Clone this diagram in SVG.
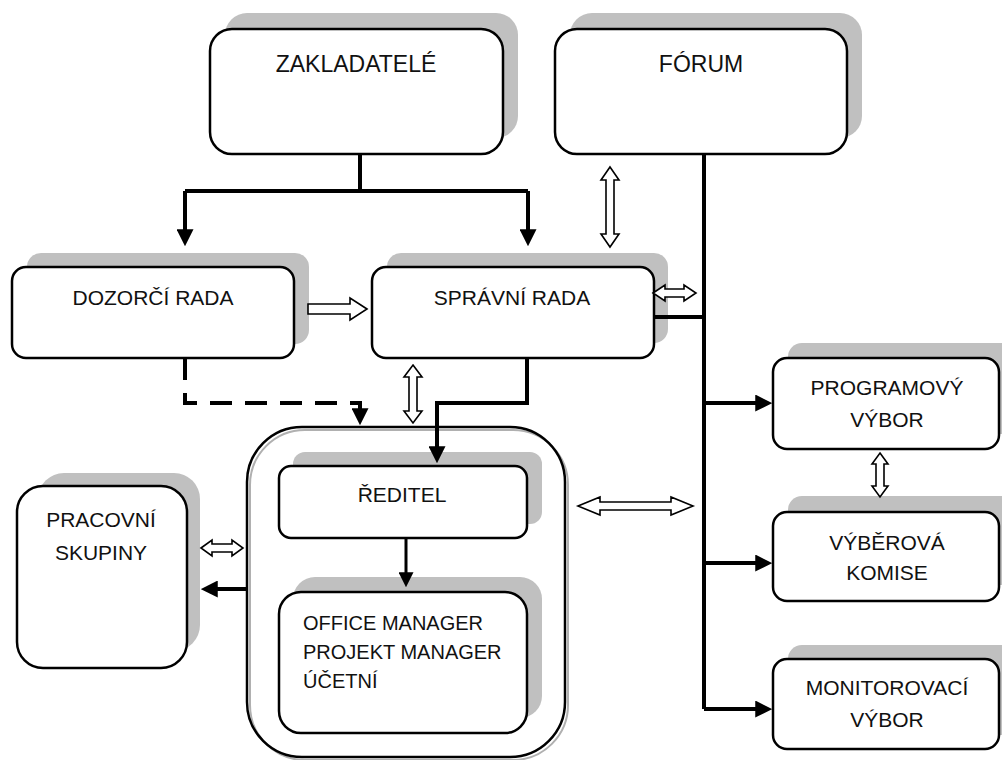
<svg xmlns="http://www.w3.org/2000/svg" width="1002" height="760" viewBox="0 0 1002 760">
<style>
.sh{fill:#c0c0c0;stroke:none}
.bx{fill:#fff;stroke:#000;stroke-width:2.5}
.t{font-family:"Liberation Sans",Arial,sans-serif;font-size:21px;fill:#111;text-anchor:middle}
.tb{font-size:23px}
.tl{font-family:"Liberation Sans",Arial,sans-serif;font-size:20px;fill:#111}
.ln{fill:none;stroke:#000;stroke-width:4}
.ha{fill:#fff;stroke:#000;stroke-width:1.6;stroke-linejoin:miter}
</style>
<defs>
<marker id="ah" markerUnits="userSpaceOnUse" markerWidth="17" markerHeight="17" refX="12" refY="8" orient="auto" viewBox="0 0 16 16">
<path d="M0,0 L16,8 L0,16 z" fill="#000"/>
</marker>
<marker id="ahs" markerUnits="userSpaceOnUse" markerWidth="15" markerHeight="15" refX="10" refY="7" orient="auto" viewBox="0 0 14 14">
<path d="M0,0 L14,7 L0,14 z" fill="#000"/>
</marker>
</defs>
<rect width="1002" height="760" fill="#fff"/>

<g id="zakladatele">
<rect class="sh" x="225" y="13" width="293" height="125" rx="22"/>
<rect class="bx" x="210" y="29" width="293" height="125" rx="22"/>
<text class="t tb" x="356" y="72">ZAKLADATELÉ</text>
</g>
<g id="forum">
<rect class="sh" x="570" y="13" width="292" height="125" rx="22"/>
<rect class="bx" x="555" y="29" width="292" height="125" rx="22"/>
<text class="t tb" x="701" y="72">FÓRUM</text>
</g>
<g id="dozorci-rada">
<rect class="sh" x="27" y="253" width="282" height="91" rx="14"/>
<rect class="bx" x="12" y="267" width="282" height="91" rx="14"/>
<text class="t" x="153" y="305">DOZORČÍ RADA</text>
</g>
<g id="spravni-rada">
<rect class="sh" x="387" y="253" width="281" height="90" rx="14"/>
<rect class="bx" x="372" y="267" width="282" height="91" rx="14"/>
<text class="t" x="512" y="305">SPRÁVNÍ RADA</text>
</g>
<g id="kancelar">
<rect x="250" y="430" width="318" height="330" rx="55" fill="none" stroke="#b0b0b0" stroke-width="2"/>
<rect x="247" y="427" width="318" height="330" rx="55" fill="none" stroke="#000" stroke-width="2.5"/>
</g>
<g id="reditel">
<rect class="sh" x="293" y="452" width="249" height="72" rx="12"/>
<rect class="bx" x="279" y="466" width="248" height="72" rx="12"/>
<text class="t" x="402" y="502">ŘEDITEL</text>
</g>
<g id="office">
<rect class="sh" x="293" y="577" width="249" height="141" rx="22"/>
<rect class="bx" x="279" y="592" width="248" height="141" rx="22"/>
<text class="tl" x="303" y="630">OFFICE MANAGER</text>
<text class="tl" x="303" y="659">PROJEKT MANAGER</text>
<text class="tl" x="303" y="688">ÚČETNÍ</text>
</g>
<g id="pracovni-skupiny">
<rect class="sh" x="38" y="473" width="162" height="178" rx="26"/>
<rect class="bx" x="17" y="486" width="170" height="182" rx="26"/>
<text class="t" x="101" y="527">PRACOVNÍ</text>
<text class="t" x="101" y="560">SKUPINY</text>
</g>
<g id="programovy-vybor">
<rect class="sh" x="788" y="343" width="240" height="91" rx="14"/>
<rect class="bx" x="773" y="358" width="226" height="91" rx="14"/>
<text class="t" x="887" y="395">PROGRAMOVÝ</text>
<text class="t" x="887" y="427">VÝBOR</text>
</g>
<g id="vyberova-komise">
<rect class="sh" x="788" y="496" width="240" height="89" rx="14"/>
<rect class="bx" x="773" y="512" width="226" height="89" rx="14"/>
<text class="t" x="887" y="550">VÝBĚROVÁ</text>
<text class="t" x="887" y="580">KOMISE</text>
</g>
<g id="monitorovaci-vybor">
<rect class="sh" x="788" y="645" width="240" height="90" rx="14"/>
<rect class="bx" x="773" y="659" width="226" height="90" rx="14"/>
<text class="t" x="887" y="695">MONITOROVACÍ</text>
<text class="t" x="887" y="727">VÝBOR</text>
</g>

<g id="connectors">
<path class="ln" d="M360,154 V191"/>
<path class="ln" d="M185,191 H528"/>
<path class="ln" d="M185,191 V242" marker-end="url(#ah)"/>
<path class="ln" d="M528,191 V242" marker-end="url(#ah)"/>
<path class="ln" d="M704,154 V709"/>
<path class="ln" d="M654,317 H704"/>
<path class="ln" d="M704,403 H768" marker-end="url(#ah)"/>
<path class="ln" d="M704,563 H768" marker-end="url(#ah)"/>
<path class="ln" d="M704,709 H768" marker-end="url(#ah)"/>
<path class="ln" d="M527,358 V403 H437 V459" marker-end="url(#ah)"/>
<path class="ln" d="M185,358 V403 H360 V421" stroke-dasharray="22 13" marker-end="url(#ah)"/>
<path class="ln" style="stroke-width:3" d="M406,538 V583" marker-end="url(#ahs)"/>
<path class="ln" d="M247,589 H205" marker-end="url(#ah)"/>
<polygon class="ha" points="610,167 619,180 614,180 614,234 619,234 610,247 601,234 606,234 606,180 601,180"/>
<polygon class="ha" points="413,365 422,377 417,377 417,411 422,411 413,423 404,411 409,411 409,377 404,377"/>
<polygon class="ha" points="880,453 888,464 884,464 884,486 888,486 880,497 872,486 876,486 876,464 872,464"/>
<polygon class="ha" points="653,293 665,285 665,289 684,289 684,285 696,293 684,301 684,297 665,297 665,301"/>
<polygon class="ha" points="201,548 212,540 212,544 232,544 232,540 243,548 232,556 232,552 212,552 212,556"/>
<polygon class="ha" points="578,506 600,497 600,502 671,502 671,497 693,506 671,515 671,510 600,510 600,515"/>
<polygon class="ha" points="367,309 350,298 350,304 308,304 308,314 350,314 350,320"/>
</g>
</svg>
